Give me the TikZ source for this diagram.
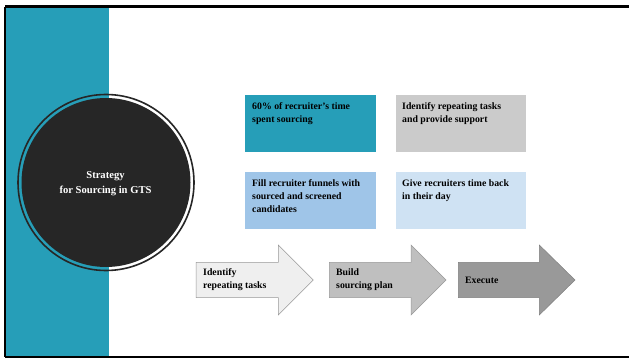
\documentclass[tikz,border=0pt]{standalone}
\usepackage{fontspec}
\setmainfont{Liberation Serif}
\definecolor{teal1}{RGB}{38,158,184}
\definecolor{dark}{RGB}{38,38,38}
\definecolor{grayA}{RGB}{203,203,203}
\definecolor{blueA}{RGB}{159,197,232}
\definecolor{blueB}{RGB}{207,226,243}
\definecolor{arr1}{RGB}{239,239,239}
\definecolor{arr2}{RGB}{191,191,191}
\definecolor{arr3}{RGB}{153,153,153}
\tikzset{
  boxtext/.style={anchor=north west, align=left, font=\fontsize{9.8}{12.8}\selectfont\bfseries, text=black, inner sep=0pt},
  arrtext/.style={anchor=west, align=left, font=\fontsize{9.8}{13}\selectfont\bfseries, text=black, inner sep=0pt},
}
\begin{document}
\begin{tikzpicture}[x=1pt,y=-1pt]
\useasboundingbox (0,0) rectangle (629,358);
\fill[white] (0,0) rectangle (629,358);
% teal band
\fill[teal1] (6,7) rectangle (109,356.5);
% frame lines
\draw[black, line width=2.2pt] (5.2,6.6) -- (629,6.6);
\draw[black, line width=2.2pt] (5.2,6.6) -- (5.2,356.8);
\draw[black, line width=1.6pt] (5.2,356.8) -- (629,356.8);
% circle
\fill[dark] (106,182.5) circle (84.5);
\draw[dark, line width=1.6pt] (106,182.5) circle (88);
\node[text=white, align=center, font=\fontsize{10.6}{15}\selectfont\bfseries] (title) at (105.5,184) {Strategy\\for Sourcing in GTS};
% boxes
\fill[teal1] (245,95) rectangle (376,152);
\node[boxtext] (t1) at (252,102.5) {60\% of recruiter’s time\\spent sourcing};
\fill[grayA] (396,95) rectangle (526,152);
\node[boxtext] (t2) at (402,102.5) {Identify repeating tasks\\and provide support};
\fill[blueA] (245,172) rectangle (376,229);
\node[boxtext] (t3) at (252,179.8) {Fill recruiter funnels with\\sourced and screened\\candidates};
\fill[blueB] (396,172) rectangle (526,229);
\node[boxtext] (t4) at (402,179.8) {Give recruiters time back\\in their day};
% arrows
\draw[fill=arr1, draw=gray!80, line width=0.5pt] (196,262.3) -- (278.3,262.3) -- (278.3,245) -- (313.3,280) -- (278.3,315) -- (278.3,297.7) -- (196,297.7) -- cycle;
\node[arrtext] (a1) at (203,279.5) {Identify\\repeating tasks};
\draw[fill=arr2, draw=gray!80, line width=0.5pt] (329.3,262.3) -- (411,262.3) -- (411,245) -- (446,280) -- (411,315) -- (411,297.7) -- (329.3,297.7) -- cycle;
\node[arrtext] (a2) at (336,279.5) {Build\\sourcing plan};
\draw[fill=arr3, draw=gray, line width=0.5pt] (458.3,262.3) -- (539.3,262.3) -- (539.3,245) -- (575,280) -- (539.3,315) -- (539.3,297.7) -- (458.3,297.7) -- cycle;
\node[arrtext] (a3) at (465,280) {Execute};
\end{tikzpicture}
\end{document}
